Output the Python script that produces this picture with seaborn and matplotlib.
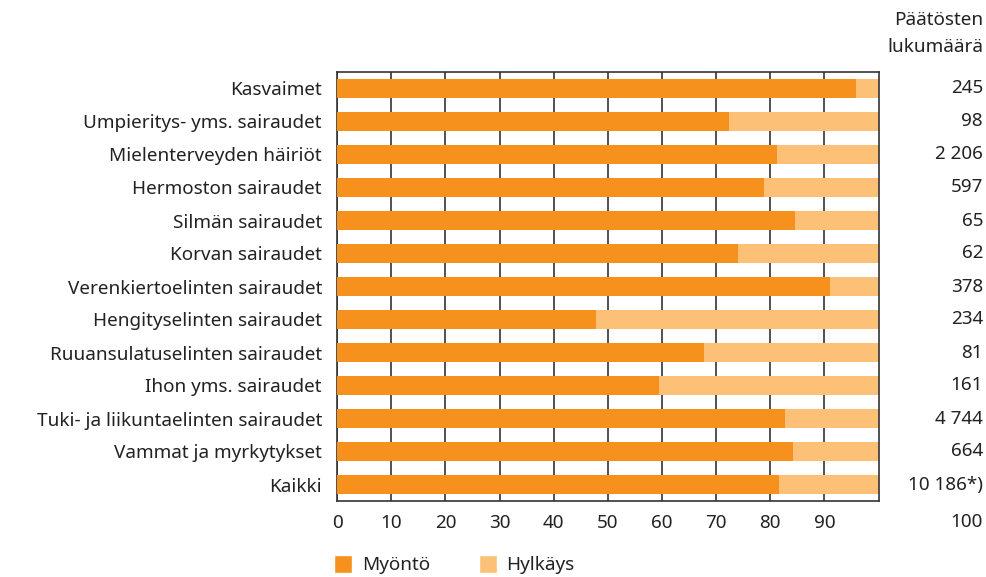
import numpy as np
import pandas as pd
import matplotlib
matplotlib.use("Agg")
import matplotlib.pyplot as plt
import matplotlib.transforms as mtransforms
from matplotlib.patches import Patch
import seaborn as sns

# Donnees
categories = [
    "Kasvaimet",
    "Umpieritys- yms. sairaudet",
    "Mielenterveyden häiriöt",
    "Hermoston sairaudet",
    "Silmän sairaudet",
    "Korvan sairaudet",
    "Verenkiertoelinten sairaudet",
    "Hengityselinten sairaudet",
    "Ruuansulatuselinten sairaudet",
    "Ihon yms. sairaudet",
    "Tuki- ja liikuntaelinten sairaudet",
    "Vammat ja myrkytykset",
    "Kaikki",
]
myonto = [95.8, 72.4, 81.3, 78.8, 84.6, 74.1, 91.0, 47.8, 67.7, 59.4, 82.7, 84.2, 81.6]
hylkays = [4.2, 27.6, 18.7, 21.2, 15.4, 25.9, 9.0, 52.2, 32.3, 40.6, 17.3, 15.8, 18.4]
counts = ["245", "98", "2 206", "597", "65", "62", "378", "234", "81", "161",
          "4 744", "664", "10 186*)"]
x_ticks = [0, 10, 20, 30, 40, 50, 60, 70, 80, 90]

c_myonto = "#F7911E"
c_hylkays = "#FCC176"
c_line = "#333333"
fs = 13.6

df = pd.DataFrame({"kategoria": categories, "myonto": myonto, "hylkays": hylkays})
df["yhteensa"] = df["myonto"] + df["hylkays"]

sns.set_style("white")
plt.rcParams["font.family"] = ["Noto Sans", "DejaVu Sans"]
plt.rcParams["text.color"] = "#222222"

fig = plt.figure(figsize=(9.86, 5.77), dpi=100)
ax = fig.add_axes([0.342, 1 - 501 / 577, 0.549, (501 - 72) / 577])

# Barres empilees : total (hylkays) derriere, myonto devant
sns.barplot(data=df, y="kategoria", x="yhteensa", color=c_hylkays, width=0.6,
            saturation=1, orient="h", ax=ax, zorder=2, linewidth=0)
sns.barplot(data=df, y="kategoria", x="myonto", color=c_myonto, width=0.6,
            saturation=1, orient="h", ax=ax, zorder=3, linewidth=0)

ax.set_xlim(0, 100)
ax.set_ylim(len(categories) - 0.5, -0.5)
ax.set_xticks(x_ticks)
ax.set_xlabel("")
ax.set_ylabel("")
ax.set_axisbelow(True)
ax.xaxis.grid(True, color=c_line, linewidth=1.2)
ax.yaxis.grid(False)
ax.tick_params(axis="both", length=0, labelsize=fs, colors="#222222")
ax.tick_params(axis="y", pad=11)
ax.tick_params(axis="x", pad=9)
for s in ax.spines.values():
    s.set_visible(True)
    s.set_color(c_line)
    s.set_linewidth(1.2)

# Colonne de droite : nombre de decisions
trans = mtransforms.blended_transform_factory(fig.transFigure, ax.transData)
for i, c in enumerate(counts):
    ax.text(0.997, i, c, transform=trans, ha="right", va="center", fontsize=fs)
fig.text(0.997, 1 - 20 / 577, "Päätösten", ha="right", va="center", fontsize=fs)
fig.text(0.997, 1 - 47 / 577, "lukumäärä", ha="right", va="center", fontsize=fs)
fig.text(0.997, 1 - 522 / 577, "100", ha="right", va="center", fontsize=fs)

# Legende
handles = [Patch(facecolor=c_myonto, label="Myöntö"),
           Patch(facecolor=c_hylkays, label="Hylkäys")]
fig.legend(handles=handles, loc="lower left", bbox_to_anchor=(0.322, -0.025),
           ncol=2, frameon=False, fontsize=fs, handlelength=0.95,
           handleheight=1.1, handletextpad=0.5, columnspacing=2.6)

fig.savefig("out.png", dpi=100)
